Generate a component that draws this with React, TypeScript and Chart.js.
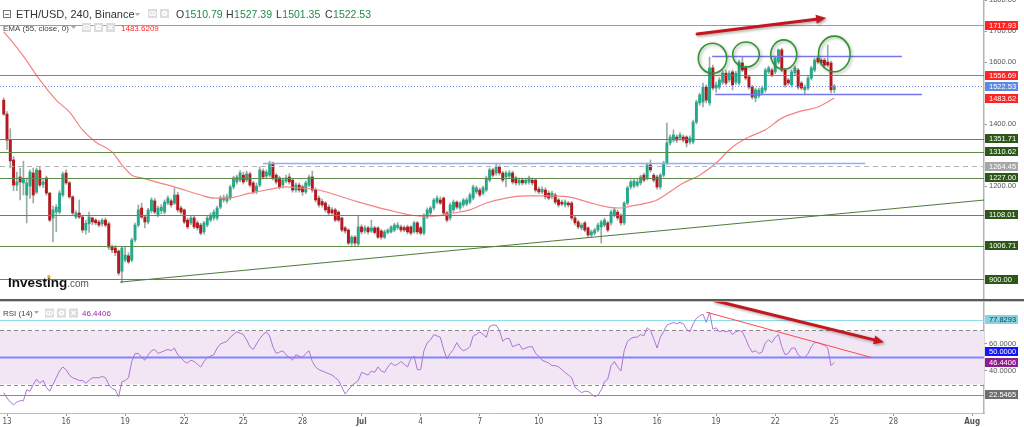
import React, { useEffect, useRef } from "react";
import { Chart, registerables } from "chart.js";

Chart.register(...registerables);

// ---------------- DATA ----------------
const opens = [
1477,1432,1348,1284,1203,1229,1210,1171,1200,1242,
1180,1250,1205,1226,1177,1097,1116,1116,1171,1242,
1210,1165,1100,1113,1100,1058,1078,1097,1090,1084,
1078,1090,1078,1003,1000,990,925,961,975,961,
1026,1074,1129,1100,1084,1120,1152,1106,1120,1116,
1145,1152,1145,1171,1129,1123,1090,1081,1097,1081,
1074,1052,1074,1090,1097,1097,1132,1155,1152,1161,
1197,1213,1219,1235,1219,1239,1210,1185,1203,1248,
1232,1235,1274,1235,1226,1203,1216,1229,1219,1187,
1203,1197,1181,1203,1229,1187,1161,1150,1145,1132,
1123,1123,1116,1097,1065,1058,1016,1035,1013,1068,
1055,1065,1055,1065,1065,1055,1035,1050,1052,1058,
1065,1068,1066,1068,1068,1052,1081,1065,1048,1100,
1113,1129,1148,1155,1161,1113,1097,1123,1148,1129,
1139,1142,1148,1161,1181,1187,1177,1187,1219,1252,
1242,1261,1242,1229,1232,1242,1226,1210,1219,1210,
1213,1219,1219,1190,1181,1187,1177,1165,1171,1155,
1148,1139,1145,1145,1097,1084,1065,1081,1065,1042,
1048,1058,1068,1074,1081,1081,1106,1116,1106,1081,
1145,1197,1200,1203,1210,1235,1226,1268,1235,1229,
1197,1235,1274,1339,1348,1358,1355,1358,1358,1342,
1342,1406,1468,1471,1519,1468,1581,1516,1519,1535,
1564,1542,1568,1535,1532,1597,1581,1552,1519,1484,
1490,1500,1510,1568,1574,1568,1600,1639,1574,1542,
1526,1565,1574,1532,1510,1516,1548,1574,1613,1606,
1606,1600,1597,1510.79
];
const highs = [
1484,1440,1385,1295,1245,1258,1280,1226,1252,1258,
1258,1261,1222,1232,1180,1135,1140,1185,1245,1252,
1215,1168,1120,1155,1106,1090,1116,1100,1095,1090,
1095,1097,1084,1010,1008,994,1003,1003,985,1032,
1080,1139,1145,1106,1128,1162,1160,1135,1140,1155,
1168,1158,1194,1180,1135,1126,1097,1102,1102,1088,
1080,1086,1102,1113,1123,1135,1168,1171,1174,1203,
1232,1235,1250,1245,1248,1245,1216,1210,1262,1255,
1252,1280,1277,1240,1232,1226,1235,1240,1224,1210,
1210,1203,1216,1235,1248,1194,1168,1158,1150,1139,
1130,1128,1120,1100,1070,1062,1040,1040,1106,1075,
1072,1070,1090,1070,1068,1060,1058,1062,1072,1080,
1082,1074,1072,1074,1072,1086,1086,1070,1110,1130,
1135,1160,1168,1165,1165,1118,1145,1155,1152,1150,
1160,1162,1177,1203,1200,1194,1200,1232,1258,1258,
1274,1268,1248,1248,1250,1248,1232,1226,1226,1224,
1232,1226,1224,1197,1197,1194,1184,1184,1177,1160,
1155,1155,1150,1150,1102,1090,1080,1086,1068,1058,
1064,1080,1090,1097,1086,1122,1130,1122,1110,1150,
1200,1220,1222,1222,1235,1242,1274,1284,1240,1235,
1240,1280,1403,1365,1381,1365,1372,1365,1362,1362,
1413,1477,1500,1532,1526,1616,1590,1535,1550,1572,
1574,1572,1574,1570,1606,1616,1587,1558,1525,1516,
1516,1522,1580,1587,1580,1619,1642,1645,1580,1548,
1574,1587,1580,1538,1526,1555,1587,1612,1619,1612,
1612,1655,1603,1527.39
];
const lows = [
1428,1318,1258,1185,1185,1155,1171,1081,1160,1145,
1175,1197,1195,1170,1085,1020,1052,1110,1165,1205,
1160,1108,1095,1095,1050,1045,1050,1075,1075,1068,
1070,1068,995,985,975,912,887,955,950,955,
1020,1068,1095,1065,1078,1113,1110,1100,1110,1110,
1140,1132,1140,1116,1110,1078,1062,1075,1062,1058,
1042,1045,1068,1084,1090,1090,1126,1148,1145,1155,
1190,1206,1213,1206,1213,1197,1175,1175,1197,1222,
1226,1229,1219,1206,1190,1194,1210,1206,1180,1180,
1180,1170,1175,1197,1180,1148,1132,1132,1116,1106,
1108,1085,1084,1052,1048,1010,1008,1006,1006,1045,
1048,1045,1050,1045,1030,1028,1030,1045,1048,1052,
1060,1052,1052,1045,1042,1048,1045,1042,1042,1095,
1108,1123,1142,1140,1106,1084,1090,1116,1126,1123,
1132,1136,1142,1155,1175,1165,1171,1181,1213,1229,
1235,1235,1213,1197,1226,1206,1203,1203,1203,1205,
1206,1203,1180,1175,1175,1158,1155,1158,1142,1132,
1136,1132,1132,1090,1074,1062,1058,1052,1035,1035,
1042,1052,1016,1068,1052,1074,1100,1090,1074,1075,
1139,1190,1194,1197,1203,1213,1219,1245,1213,1190,
1190,1229,1268,1332,1342,1340,1348,1342,1326,1335,
1336,1400,1460,1455,1468,1460,1510,1503,1512,1528,
1525,1535,1510,1528,1525,1568,1542,1512,1480,1471,
1484,1494,1503,1562,1552,1562,1594,1568,1519,1525,
1519,1558,1512,1510,1494,1510,1542,1568,1594,1590,
1584,1584,1500,1501.35
];
const closes = [
1432,1348,1281,1203,1213,1213,1225,1210,1245,1171,
1252,1203,1213,1177,1090,1123,1132,1177,1239,1210,
1165,1113,1113,1100,1058,1080,1100,1084,1081,1074,
1090,1074,1003,994,985,919,1000,977,955,1026,
1074,1123,1100,1084,1123,1155,1116,1129,1132,1148,
1161,1139,1171,1123,1116,1084,1068,1097,1068,1065,
1048,1081,1097,1106,1116,1129,1161,1161,1165,1197,
1226,1229,1242,1213,1239,1203,1181,1200,1252,1229,
1245,1274,1226,1213,1197,1219,1226,1213,1187,1203,
1187,1181,1210,1229,1187,1155,1139,1139,1123,1113,
1113,1090,1090,1058,1055,1016,1035,1016,1068,1052,
1065,1052,1065,1050,1035,1035,1052,1058,1068,1074,
1074,1058,1058,1052,1048,1081,1052,1048,1106,1123,
1129,1155,1161,1145,1113,1090,1139,1148,1132,1145,
1155,1155,1171,1197,1194,1171,1194,1226,1252,1235,
1261,1242,1219,1242,1242,1213,1210,1219,1210,1219,
1226,1210,1187,1181,1190,1165,1161,1177,1148,1139,
1142,1148,1139,1097,1081,1068,1074,1058,1042,1052,
1058,1074,1084,1090,1058,1116,1123,1097,1081,1145,
1194,1213,1216,1213,1229,1219,1268,1252,1219,1197,
1235,1274,1339,1358,1365,1348,1365,1348,1339,1355,
1406,1471,1494,1519,1477,1581,1516,1526,1542,1564,
1532,1564,1526,1564,1600,1574,1548,1519,1487,1510,
1510,1516,1574,1581,1558,1613,1639,1574,1526,1532,
1568,1581,1519,1516,1519,1548,1581,1606,1600,1597,
1590,1590,1510,1522.53
];
const rsiValues = [
24,20,17,15,17,18,18,26,25,30,
34,31,33,28,25,30,35,40,43,41,
37,35,34,33,33,31,33,35,35,35,
36,35,30,27,26,21,32,33,35,47,
53,53,50,48,52,55,56,53,54,55,
56,55,57,52,50,47,46,48,47,45,
43,47,50,51,52,57,60,61,62,65,
67,69,68,67,63,58,56,60,64,67,
69,66,58,53,54,55,52,50,48,52,
51,50,53,55,47,43,41,40,39,38,
37,35,33,28,23,26,29,31,33,39,
38,37,40,39,43,40,39,43,46,44,
45,47,45,43,49,51,41,41,55,61,
63,67,66,65,56,49,53,56,61,57,
55,56,58,66,67,69,67,65,73,74,
74,70,62,64,64,58,59,60,56,57,
58,58,53,51,48,47,46,44,44,43,
41,39,37,35,28,26,24,25,25,23,
21,22,26,32,34,44,47,43,40,55,
62,64,65,65,67,66,72,70,64,57,
65,69,74,75,76,75,76,75,71,69,
75,79,81,82,76,83.6,71,72,69,70,
69,70,67,69,70,69,64,58,54,55,
53,54,61,63,61,65,67,58,52,53,
57,57,52,50,50,53,58,61,61,60,
59,57,44,46.44
];
// EMA(55) at these candle indexes
const emaIndex = [0,2,6,11,16,20,24,28,33,36,39,42,52,60,64,68,75,80,86,90,96,106,117,127,131,137,142,147,153,159,165,172,178,184,188,191,197,199,207,212,217,222,227,232,237,242,248,253];
const emaValues = [1697,1673,1619,1542,1477,1439,1381,1342,1310,1268,1235,1226,1197,1171,1161,1161,1177,1187,1197,1194,1187,1155,1123,1103,1103,1113,1123,1145,1161,1168,1168,1165,1148,1132,1129,1135,1148,1155,1210,1235,1274,1326,1358,1381,1419,1439,1455,1483.62];

// time axis: candle index 1 = 13 Jun 00:00, 6 candles (4h) per day
const FIRST_MIDNIGHT_INDEX = 1;
const CANDLES_PER_DAY = 6;
const dayTickOffsets = [0,3,6,9,12,15,18,21,24,27,30,33,36,39,42,45,49];
const dayTickLabels = ["13","16","19","22","25","28","Jul","4","7","10","13","16","19","22","25","28","Aug"];

const priceTicks = [1200, 1400, 1600, 1700, 1800];
const rsiTicks = [40, 60];
const redLevels = [1717.93, 1556.69];
const greenLevels = [1351.71, 1310.62, 1227.0, 1108.01, 1006.71, 900.0];
const grayLevel = 1264.45;
const emaLastText = "1483.6209";
const emaLast = 1483.62;
const rsiUpperLevel = 77.8293;
const rsiLowerLevel = 22.5465;
const rsiLastText = "46.4406";

// drawings (in data coordinates: candle index, price / rsi)
const priceSegments = [
  { from: 79, to: 262.4, value: 1275, color: "#8db1f6" },
  { from: 215.8, to: 273.6, value: 1619, color: "#7476ee" },
  { from: 216.7, to: 279.7, value: 1497, color: "#7476ee" },
];
const trendLine = { x1: 35.4, y1: 890, x2: 298.9, y2: 1155 };
const circles = [
  { x: 215.9, y: 1612, rx: 14.2, ry: 15 },
  { x: 226.1, y: 1624, rx: 13.3, ry: 12.5 },
  { x: 237.6, y: 1624, rx: 13, ry: 14.7 },
  { x: 253.0, y: 1626, rx: 15.8, ry: 17.8 },
];
const priceArrow = { x1: 211.2, y1: 1690, x2: 250.5, y2: 1742 };
const rsiTrend = { x1: 214, y1: 83.6, x2: 264.3, y2: 50 };
const rsiArrow = { x1: 216.4, y1: 92.2, x2: 268.1, y2: 61.3 };

// ---------------- LAYOUT ----------------
const X_MIN = -1.133;
const X_MAX = 298.6;
const PRICE_MIN = 835.5;
const PRICE_MAX = 1800;
const RSI_MIN = 8.89;
const RSI_MAX = 93.33;
const AXIS_W = 40;
const SANS = '"Liberation Sans", Arial, Helvetica, sans-serif';
const NARROW = '"Liberation Sans Narrow", "DejaVu Sans Condensed", "Liberation Sans", sans-serif';
const UP = "#26a98b";
const DOWN = "#b5181e";
const WICK = "#9aaca2";

function hLine(ctx: any, x1: number, x2: number, y: number, color: string, width: number, dash?: number[]) {
  ctx.save();
  ctx.strokeStyle = color;
  ctx.lineWidth = width;
  ctx.setLineDash(dash || []);
  const yy = Math.round(y) + 0.5;
  ctx.beginPath();
  ctx.moveTo(x1, yy);
  ctx.lineTo(x2, yy);
  ctx.stroke();
  ctx.restore();
}

function arrow(ctx: any, x1: number, y1: number, x2: number, y2: number, color: string, width: number, headLen: number, headHalf: number) {
  const ang = Math.atan2(y2 - y1, x2 - x1);
  const bx = x2 - headLen * Math.cos(ang);
  const by = y2 - headLen * Math.sin(ang);
  ctx.save();
  ctx.shadowColor = "rgba(0,0,0,0.35)";
  ctx.shadowBlur = 3;
  ctx.shadowOffsetX = 1.5;
  ctx.shadowOffsetY = 1.5;
  ctx.strokeStyle = color;
  ctx.lineWidth = width;
  ctx.lineCap = "round";
  ctx.beginPath();
  ctx.moveTo(x1, y1);
  ctx.lineTo(bx, by);
  ctx.stroke();
  ctx.fillStyle = color;
  ctx.beginPath();
  ctx.moveTo(x2, y2);
  ctx.lineTo(bx + headHalf * Math.sin(ang), by - headHalf * Math.cos(ang));
  ctx.lineTo(bx - headHalf * Math.sin(ang), by + headHalf * Math.cos(ang));
  ctx.closePath();
  ctx.fill();
  ctx.restore();
}

function axisBox(ctx: any, left: number, yc: number, text: string, bg: string, fg: string) {
  ctx.save();
  const top = Math.round(yc - 4.5);
  ctx.fillStyle = bg;
  ctx.fillRect(left, top, 33, 9);
  ctx.fillStyle = fg;
  ctx.font = `7.5px ${SANS}`;
  ctx.textAlign = "left";
  ctx.textBaseline = "middle";
  ctx.fillText(text, left + 4, top + 4.8);
  ctx.restore();
}

function icon(ctx: any, x: number, y: number, kind: string) {
  ctx.save();
  ctx.fillStyle = "#dcdcdc";
  ctx.fillRect(x, y, 9, 9);
  ctx.strokeStyle = "#ffffff";
  ctx.fillStyle = "#ffffff";
  ctx.lineWidth = 1.2;
  if (kind === "eye") {
    ctx.beginPath();
    ctx.ellipse(x + 4.5, y + 4.5, 3, 2, 0, 0, Math.PI * 2);
    ctx.stroke();
    ctx.beginPath();
    ctx.arc(x + 4.5, y + 4.5, 0.9, 0, Math.PI * 2);
    ctx.fill();
  } else if (kind === "gear") {
    ctx.beginPath();
    ctx.arc(x + 4.5, y + 4.5, 2.7, 0, Math.PI * 2);
    ctx.fill();
    ctx.fillStyle = "#dcdcdc";
    ctx.beginPath();
    ctx.arc(x + 4.5, y + 4.5, 1, 0, Math.PI * 2);
    ctx.fill();
  } else {
    ctx.beginPath();
    ctx.moveTo(x + 2.5, y + 2.5);
    ctx.lineTo(x + 6.5, y + 6.5);
    ctx.moveTo(x + 6.5, y + 2.5);
    ctx.lineTo(x + 2.5, y + 6.5);
    ctx.stroke();
  }
  ctx.restore();
}

function caret(ctx: any, x: number, y: number) {
  ctx.save();
  ctx.fillStyle = "#aaaaaa";
  ctx.beginPath();
  ctx.moveTo(x, y);
  ctx.lineTo(x + 5, y);
  ctx.lineTo(x + 2.5, y + 3);
  ctx.closePath();
  ctx.fill();
  ctx.restore();
}

const pricePlugin = {
  id: "priceDecor",
  beforeDraw(chart: any) {
    const { ctx, width, height } = chart;
    ctx.save();
    ctx.fillStyle = "#ffffff";
    ctx.fillRect(0, 0, width, height);
    ctx.restore();
  },
  afterDatasetsDraw(chart: any) {
    const { ctx, chartArea: a } = chart;
    const x = chart.scales.x;
    const y = chart.scales.y;
    ctx.save();
    ctx.beginPath();
    ctx.rect(a.left, a.top, a.right - a.left, a.bottom - a.top);
    ctx.clip();
    greenLevels.forEach((v) => hLine(ctx, a.left, a.right, y.getPixelForValue(v), "#5f8a4a", 1.2));
    hLine(ctx, a.left, a.right, y.getPixelForValue(grayLevel), "#b4b4b4", 1, [5, 4]);
    hLine(ctx, a.left, a.right, y.getPixelForValue(redLevels[0]), "rgba(255,90,90,0.85)", 1.2);
    hLine(ctx, a.left, a.right, y.getPixelForValue(redLevels[1]), "rgba(255,60,60,0.9)", 1.2);
    hLine(ctx, a.left, a.right, y.getPixelForValue(closes[closes.length - 1]), "#6d8ef7", 1, [1, 2]);
    priceSegments.forEach((s) =>
      hLine(ctx, x.getPixelForValue(s.from), x.getPixelForValue(s.to), y.getPixelForValue(s.value), s.color, 1.5)
    );
    // trend line
    ctx.save();
    ctx.strokeStyle = "#4f7a3b";
    ctx.lineWidth = 1;
    ctx.beginPath();
    ctx.moveTo(x.getPixelForValue(trendLine.x1), y.getPixelForValue(trendLine.y1));
    ctx.lineTo(x.getPixelForValue(trendLine.x2), y.getPixelForValue(trendLine.y2));
    ctx.stroke();
    ctx.restore();
    // circles
    circles.forEach((c) => {
      ctx.save();
      ctx.shadowColor = "rgba(0,0,0,0.3)";
      ctx.shadowBlur = 3;
      ctx.shadowOffsetX = 1.5;
      ctx.shadowOffsetY = 1.5;
      ctx.strokeStyle = "#2f962f";
      ctx.lineWidth = 1.6;
      ctx.beginPath();
      ctx.ellipse(x.getPixelForValue(c.x), y.getPixelForValue(c.y), c.rx, c.ry, 0, 0, Math.PI * 2);
      ctx.stroke();
      ctx.restore();
    });
    arrow(
      ctx,
      x.getPixelForValue(priceArrow.x1), y.getPixelForValue(priceArrow.y1),
      x.getPixelForValue(priceArrow.x2), y.getPixelForValue(priceArrow.y2),
      "#c4161c", 3, 10, 4.5
    );
    ctx.restore();
  },
  afterDraw(chart: any) {
    const { ctx, chartArea: a } = chart;
    const y = chart.scales.y;
    const L = a.right + 1;
    greenLevels.forEach((v) => axisBox(ctx, L, y.getPixelForValue(v), v.toFixed(2), "#2d5719", "#ffffff"));
    axisBox(ctx, L, y.getPixelForValue(grayLevel), grayLevel.toFixed(2), "#a6a6a6", "#ffffff");
    redLevels.forEach((v) => axisBox(ctx, L, y.getPixelForValue(v), v.toFixed(2), "#ff2424", "#ffffff"));
    const last = closes[closes.length - 1];
    axisBox(ctx, L, y.getPixelForValue(last), last.toFixed(2), "#5a8ae6", "#ffffff");
    axisBox(ctx, L, y.getPixelForValue(emaLast), emaLast.toFixed(2), "#ff2424", "#ffffff");

    // header row 1
    ctx.save();
    ctx.strokeStyle = "#777";
    ctx.lineWidth = 1;
    ctx.strokeRect(3.5, 10.5, 7, 7);
    ctx.beginPath();
    ctx.moveTo(5, 14.5);
    ctx.lineTo(9, 14.5);
    ctx.stroke();
    ctx.font = `11px ${SANS}`;
    ctx.fillStyle = "#333333";
    ctx.textBaseline = "alphabetic";
    ctx.textAlign = "left";
    ctx.fillText("ETH/USD, 240, Binance", 16, 18);
    caret(ctx, 135, 13);
    icon(ctx, 148, 9, "eye");
    icon(ctx, 160, 9, "gear");
    const n = closes.length - 1;
    const parts: [string, number, number][] = [
      ["O", opens[n], 176],
      ["H", highs[n], 226],
      ["L", lows[n], 276],
      ["C", closes[n], 325],
    ];
    ctx.font = `10.5px ${SANS}`;
    parts.forEach(([k, v, px]) => {
      ctx.fillStyle = "#333333";
      ctx.fillText(k, px, 18);
      const w = ctx.measureText(k).width;
      ctx.fillStyle = "#248a44";
      ctx.fillText(v.toFixed(2), px + w + 0.5, 18);
    });
    // header row 2
    ctx.font = `8px ${SANS}`;
    ctx.fillStyle = "#444444";
    ctx.fillText("EMA (55, close, 0)", 3, 30.5);
    caret(ctx, 71, 26);
    icon(ctx, 82, 23, "eye");
    icon(ctx, 94, 23, "gear");
    icon(ctx, 106, 23, "x");
    ctx.fillStyle = "#ff2a2a";
    ctx.fillText(emaLastText, 121, 30.5);

    // Investing.com logo
    ctx.font = `bold 13.5px ${SANS}`;
    ctx.fillStyle = "#111111";
    ctx.fillText("Investing", 8, 286.5);
    const wInv = ctx.measureText("Investing").width;
    const dotX = 8 + ctx.measureText("Invest").width + ctx.measureText("i").width / 2;
    ctx.fillStyle = "#f5a623";
    ctx.beginPath();
    ctx.arc(dotX, 276.8, 1.7, 0, Math.PI * 2);
    ctx.fill();
    ctx.font = `10px ${SANS}`;
    ctx.fillStyle = "#555555";
    ctx.fillText(".com", 8 + wInv, 286.5);
    ctx.restore();
  },
};

const rsiPlugin = {
  id: "rsiDecor",
  beforeDraw(chart: any) {
    const { ctx, width, height } = chart;
    ctx.save();
    ctx.fillStyle = "#ffffff";
    ctx.fillRect(0, 0, width, height);
    ctx.restore();
  },
  beforeDatasetsDraw(chart: any) {
    const { ctx, chartArea: a } = chart;
    const y = chart.scales.y;
    ctx.save();
    const t = y.getPixelForValue(70);
    const b = y.getPixelForValue(30);
    ctx.fillStyle = "#f3e6f4";
    ctx.fillRect(a.left, t, a.right - a.left, b - t);
    hLine(ctx, a.left, a.right, t, "#8c8c8c", 1, [4, 3]);
    hLine(ctx, a.left, a.right, b, "#8c8c8c", 1, [4, 3]);
    hLine(ctx, a.left, a.right, y.getPixelForValue(rsiUpperLevel), "#8fdde8", 1.2);
    hLine(ctx, a.left, a.right, y.getPixelForValue(rsiLowerLevel), "#8a8a8a", 1);
    ctx.save();
    ctx.strokeStyle = "#8383ff";
    ctx.lineWidth = 2;
    const y50 = y.getPixelForValue(50);
    ctx.beginPath();
    ctx.moveTo(a.left, y50);
    ctx.lineTo(a.right, y50);
    ctx.stroke();
    ctx.restore();
    ctx.restore();
  },
  afterDatasetsDraw(chart: any) {
    const { ctx, chartArea: a } = chart;
    const x = chart.scales.x;
    const y = chart.scales.y;
    ctx.save();
    ctx.beginPath();
    ctx.rect(a.left, a.top, a.right - a.left, a.bottom - a.top);
    ctx.clip();
    ctx.strokeStyle = "#ff4a4a";
    ctx.lineWidth = 1;
    ctx.beginPath();
    ctx.moveTo(x.getPixelForValue(rsiTrend.x1), y.getPixelForValue(rsiTrend.y1));
    ctx.lineTo(x.getPixelForValue(rsiTrend.x2), y.getPixelForValue(rsiTrend.y2));
    ctx.stroke();
    arrow(
      ctx,
      x.getPixelForValue(rsiArrow.x1), y.getPixelForValue(rsiArrow.y1),
      x.getPixelForValue(rsiArrow.x2), y.getPixelForValue(rsiArrow.y2),
      "#c4161c", 3, 10, 4.5
    );
    ctx.restore();
  },
  afterDraw(chart: any) {
    const { ctx, chartArea: a, width } = chart;
    const y = chart.scales.y;
    const L = a.right + 1;
    axisBox(ctx, L, y.getPixelForValue(rsiUpperLevel), rsiUpperLevel.toFixed(4), "#86d4e3", "#1c3553");
    axisBox(ctx, L, y.getPixelForValue(rsiLowerLevel), rsiLowerLevel.toFixed(4), "#6e6e6e", "#ffffff");
    axisBox(ctx, L, y.getPixelForValue(50) - 5.5, (50).toFixed(4), "#1414ff", "#ffffff");
    axisBox(ctx, L, y.getPixelForValue(rsiValues[rsiValues.length - 1]), rsiLastText, "#8e1c8e", "#ffffff");
    ctx.save();
    // pane separator
    ctx.fillStyle = "#5a5a5a";
    ctx.fillRect(0, 0, width, 2);
    ctx.fillStyle = "#bdbdbd";
    ctx.fillRect(0, 2, width, 0.8);
    // legend
    ctx.font = `8px ${SANS}`;
    ctx.fillStyle = "#444444";
    ctx.textAlign = "left";
    ctx.textBaseline = "alphabetic";
    ctx.fillText("RSI (14)", 3, 16.5);
    caret(ctx, 34, 12);
    icon(ctx, 45, 9.5, "eye");
    icon(ctx, 57, 9.5, "gear");
    icon(ctx, 69, 9.5, "x");
    ctx.fillStyle = "#9c27a8";
    ctx.fillText(rsiLastText, 82, 16.5);
    ctx.restore();
  },
};

function priceConfig(): any {
  const idx = closes.map((_, i) => i);
  return {
    type: "bar",
    data: {
      datasets: [
        {
          type: "line",
          label: "EMA",
          data: emaIndex.map((xv, k) => ({ x: xv, y: emaValues[k] })),
          borderColor: "#f58282",
          borderWidth: 1.2,
          pointRadius: 0,
          cubicInterpolationMode: "monotone",
          order: 0,
        },
        {
          type: "bar",
          label: "bodies",
          data: idx.map((i) => ({ x: i, y: [opens[i], closes[i]] })),
          backgroundColor: idx.map((i) => (closes[i] >= opens[i] ? UP : DOWN)),
          barThickness: 2.3,
          grouped: false,
          order: 1,
        },
        {
          type: "bar",
          label: "wicks",
          data: idx.map((i) => ({ x: i, y: [lows[i], highs[i]] })),
          backgroundColor: WICK,
          barThickness: 1,
          grouped: false,
          order: 2,
        },
      ],
    },
    options: {
      animation: false,
      responsive: false,
      maintainAspectRatio: false,
      layout: { padding: 0 },
      plugins: { legend: { display: false }, tooltip: { enabled: false } },
      scales: {
        x: { type: "linear", min: X_MIN, max: X_MAX, offset: false, display: false },
        y: {
          type: "linear",
          position: "right",
          min: PRICE_MIN,
          max: PRICE_MAX,
          afterBuildTicks: (s: any) => {
            s.ticks = priceTicks.map((v) => ({ value: v }));
          },
          afterFit: (s: any) => {
            s.width = AXIS_W;
            s.paddingTop = 0;
            s.paddingBottom = 0;
          },
          ticks: {
            callback: (v: any) => Number(v).toFixed(2),
            font: { family: SANS, size: 7.5 },
            color: "#555555",
            padding: 2,
          },
          grid: { drawOnChartArea: false, drawTicks: true, tickLength: 3, color: "#999999" },
          border: { display: true, color: "#b3b3b3", width: 1.5 },
        },
      },
    },
    plugins: [pricePlugin],
  };
}

function rsiConfig(): any {
  return {
    type: "line",
    data: {
      datasets: [
        {
          label: "RSI",
          data: rsiValues.map((v, i) => ({ x: i, y: v })),
          borderColor: "#ad74d4",
          borderWidth: 1,
          pointRadius: 0,
          tension: 0,
        },
      ],
    },
    options: {
      animation: false,
      responsive: false,
      maintainAspectRatio: false,
      layout: { padding: 0 },
      plugins: { legend: { display: false }, tooltip: { enabled: false } },
      scales: {
        x: {
          type: "linear",
          min: X_MIN,
          max: X_MAX,
          offset: false,
          afterBuildTicks: (s: any) => {
            s.ticks = dayTickOffsets.map((d) => ({ value: FIRST_MIDNIGHT_INDEX + d * CANDLES_PER_DAY }));
          },
          afterFit: (s: any) => {
            s.height = 14;
            s.paddingLeft = 0;
            s.paddingRight = 0;
          },
          ticks: {
            autoSkip: false,
            maxRotation: 0,
            minRotation: 0,
            padding: 1,
            color: "#555555",
            font: (c: any) => ({
              family: NARROW,
              size: 8,
              weight: c.tick && /[A-Za-z]/.test(String(c.tick.label)) ? "bold" : "normal",
            }),
            callback: (_v: any, i: number) => dayTickLabels[i],
          },
          grid: { drawOnChartArea: false, drawTicks: true, tickLength: 3, color: "#999999" },
          border: { display: true, color: "#bdbdbd" },
        },
        y: {
          type: "linear",
          position: "right",
          min: RSI_MIN,
          max: RSI_MAX,
          afterBuildTicks: (s: any) => {
            s.ticks = rsiTicks.map((v) => ({ value: v }));
          },
          afterFit: (s: any) => {
            s.width = AXIS_W;
            s.paddingTop = 0;
            s.paddingBottom = 0;
          },
          ticks: {
            callback: (v: any) => Number(v).toFixed(4),
            font: { family: SANS, size: 7.5 },
            color: "#555555",
            padding: 2,
          },
          grid: { drawOnChartArea: false, drawTicks: true, tickLength: 3, color: "#999999" },
          border: { display: true, color: "#b3b3b3", width: 1.5 },
        },
      },
    },
    plugins: [rsiPlugin],
  };
}

export default function App() {
  const priceRef = useRef<HTMLCanvasElement>(null);
  const rsiRef = useRef<HTMLCanvasElement>(null);
  useEffect(() => {
    document.body.style.margin = "0";
    document.body.style.background = "#ffffff";
    const c1 = new Chart(priceRef.current as HTMLCanvasElement, priceConfig());
    const c2 = new Chart(rsiRef.current as HTMLCanvasElement, rsiConfig());
    return () => {
      c1.destroy();
      c2.destroy();
    };
  }, []);
  return (
    <div style={{ width: 1024, height: 427, background: "#ffffff", overflow: "hidden" }}>
      <canvas ref={priceRef} width={1024} height={299} style={{ display: "block", width: 1024, height: 299 }} />
      <canvas ref={rsiRef} width={1024} height={128} style={{ display: "block", width: 1024, height: 128 }} />
    </div>
  );
}
